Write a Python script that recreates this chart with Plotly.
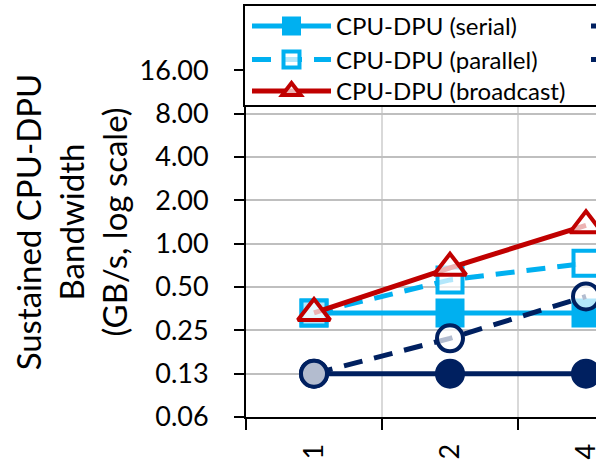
import math
import plotly.graph_objects as go

# ---- data ----
categories = ["1", "2", "4"]
cpu_dpu_serial = [0.33, 0.33, 0.33]
cpu_dpu_parallel = [0.33, 0.56, 0.73]
cpu_dpu_broadcast = [0.33, 0.68, 1.34]
dpu_cpu_serial = [0.125, 0.125, 0.125]
dpu_cpu_parallel = [0.125, 0.22, 0.43]

y_tickvals = [0.0625, 0.125, 0.25, 0.5, 1, 2, 4, 8, 16]
y_ticktext = ["0.06", "0.13", "0.25", "0.50", "1.00", "2.00", "4.00", "8.00", "16.00"]

LIGHT = "#00B0F0"
RED = "#C00000"
NAVY = "#002060"
HOLLOW = "rgba(255,255,255,0.7)"
FONT = "Lato"

W, H = 596, 463
L = 246
plot_top = 27
plot_bottom = 417.3
plot_w = W - L
plot_h = plot_bottom - plot_top


def px_x(px):
    return (px - L) / plot_w


def px_y(py):
    return (plot_bottom - py) / plot_h


fig = go.Figure()

fig.add_trace(go.Scatter(
    x=categories, y=cpu_dpu_serial, name="CPU-DPU (serial)", mode="lines+markers",
    legend="legend",
    line=dict(color=LIGHT, width=5),
    marker=dict(symbol="square", size=26, color=LIGHT, line=dict(color=LIGHT, width=3)),
))
fig.add_trace(go.Scatter(
    x=categories, y=cpu_dpu_parallel, name="CPU-DPU (parallel)", mode="lines+markers",
    legend="legend2",
    line=dict(color=LIGHT, width=5, dash="19px,12px"),
    marker=dict(symbol="square", size=25, color=HOLLOW, line=dict(color=LIGHT, width=4)),
))
fig.add_trace(go.Scatter(
    x=categories, y=dpu_cpu_serial, name="DPU-CPU (serial)", mode="lines+markers",
    legend="legend4",
    line=dict(color=NAVY, width=5),
    marker=dict(symbol="circle", size=27, color=NAVY, line=dict(color=NAVY, width=3)),
))
fig.add_trace(go.Scatter(
    x=categories, y=dpu_cpu_parallel, name="DPU-CPU (parallel)", mode="lines+markers",
    legend="legend5",
    line=dict(color=NAVY, width=5, dash="19px,12px"),
    marker=dict(symbol="circle", size=26, color=HOLLOW, line=dict(color=NAVY, width=4)),
))
fig.add_trace(go.Scatter(
    x=categories, y=cpu_dpu_broadcast, name="CPU-DPU (broadcast)", mode="lines+markers",
    legend="legend3",
    line=dict(color=RED, width=5),
    marker=dict(symbol="triangle-up", size=28, color=HOLLOW, line=dict(color=RED, width=4)),
))


def legend_at(left_px, row_center_px):
    return dict(
        orientation="v", bgcolor="rgba(0,0,0,0)", borderwidth=0,
        font=dict(family=FONT, size=24, color="black"),
        itemwidth=79, xanchor="left", x=px_x(left_px),
        yanchor="top", y=px_y(row_center_px - 20),
    )


fig.update_layout(
    width=W, height=H,
    margin=dict(l=L, r=0, t=plot_top, b=H - plot_bottom, autoexpand=False),
    paper_bgcolor="white", plot_bgcolor="white",
    font=dict(family=FONT, color="black"),
    showlegend=True,
    legend=legend_at(247, 24),
    legend2=legend_at(247, 57.5),
    legend3=legend_at(247, 89),
    legend4=legend_at(586, 24),
    legend5=legend_at(586, 57.5),
    shapes=[dict(
        type="rect", xref="paper", yref="paper", layer="above",
        x0=px_x(244), x1=px_x(760), y0=px_y(106), y1=px_y(5),
        line=dict(color="black", width=2), fillcolor="white",
    )],
    xaxis=dict(
        type="category", range=[-0.5, -0.5 + plot_w / 136],
        tickson="boundaries", ticks="outside", ticklen=11, tickwidth=2, tickcolor="black",
        showline=True, linecolor="black", linewidth=2,
        showgrid=True, gridcolor="#D9D9D9", gridwidth=2,
        tickangle=-90, ticklabelstandoff=14,
        tickfont=dict(family=FONT, size=27, color="black"),
    ),
    yaxis=dict(
        type="log", range=[math.log10(0.0625), math.log10(32)],
        tickvals=y_tickvals, ticktext=y_ticktext,
        ticks="outside", ticklen=10, tickwidth=2, tickcolor="black",
        showline=True, linecolor="black", linewidth=2,
        showgrid=True, gridcolor="#BFBFBF", gridwidth=2,
        ticklabelstandoff=20,
        tickfont=dict(family=FONT, size=27, color="black"),
        title=dict(text="Sustained CPU-DPU<br>Bandwidth<br>(GB/s, log scale)",
                   font=dict(family=FONT, size=33, color="black"), standoff=2),
    ),
)

fig.write_html("out.html", config={"displayModeBar": False},
               post_script="document.body.style.margin='0';")
